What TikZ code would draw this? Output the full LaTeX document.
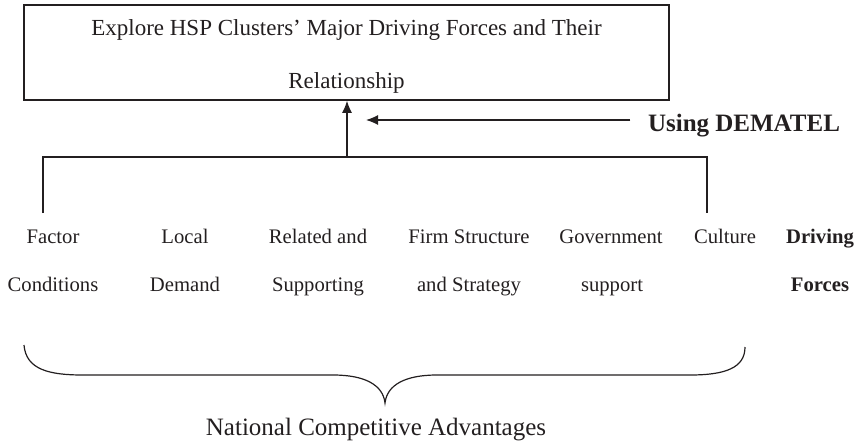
\documentclass[tikz,border=0pt]{standalone}
\usepackage{fontspec}
\setmainfont{Liberation Serif}
\usetikzlibrary{arrows.meta}

\definecolor{ink}{HTML}{231F20}

\tikzset{
  lbl/.style={anchor=base, inner sep=0.75pt, font=\fontsize{15.5}{18}\selectfont},
  boldlbl/.style={lbl, font=\fontsize{15.5}{18}\selectfont\bfseries},
  tip/.style={-{Latex[length=9pt,width=7.5pt]}},
}

\begin{document}
\begin{tikzpicture}[x=0.75pt,y=0.75pt,yscale=-1,xscale=1, line width=0.9pt, color=ink]
\useasboundingbox (0,0) rectangle (855,442);

%Box [id:goal]
\node (goal) at (346.5,52.5) [draw, line width=1.2pt, minimum width=483.75pt, minimum height=71.25pt] {};
% Text Node
\node (goalA) at (346.5,36) [lbl, font=\fontsize{17.25}{20}\selectfont] {Explore HSP Clusters’ Major Driving Forces and Their};
% Text Node
\node (goalB) at (346.5,89) [lbl, font=\fontsize{17.25}{20}\selectfont] {Relationship};

% Text Node
\node (dematel) at (744,132) [lbl, font=\fontsize{18.75}{22}\selectfont\bfseries] {Using DEMATEL};

\coordinate (join) at (347,157);
\coordinate (lfoot) at (43,213);
\coordinate (rfoot) at (707,213);
\coordinate (dtip) at (366,120);

%Straight Lines
\draw (lfoot) |- (join) -| (rfoot);
%Straight Lines
\draw [tip] (join) -- (join |- goal.south);
%Straight Lines
\draw [tip, shorten <=12pt] (dematel.west |- dtip) -- (dtip);

% Text Node
\node (factorA) at (53,243) [lbl] {Factor};
\node (factorB) at (53,291) [lbl] {Conditions};
% Text Node
\node (localA) at (185,243) [lbl] {Local};
\node (localB) at (185,291) [lbl] {Demand};
% Text Node
\node (relatedA) at (318,243) [lbl] {Related and};
\node (relatedB) at (318,291) [lbl] {Supporting};
% Text Node
\node (firmA) at (469,243) [lbl] {Firm Structure};
\node (firmB) at (469,291) [lbl] {and Strategy};
% Text Node
\node (govA) at (611,243) [lbl] {Government};
\node (govB) at (612,291) [lbl] {support};
% Text Node
\node (culture) at (725,243) [lbl] {Culture};
% Text Node
\node (drivingA) at (820,243) [boldlbl] {Driving};
\node (drivingB) at (820,291) [boldlbl] {Forces};

%Curve Lines (brace)
\draw (24,345) .. controls (26,370) and (50,375) .. (83,375) -- (333,375)
  .. controls (365,375) and (383,385) .. (385,403)
  .. controls (387,385) and (405,375) .. (437,375) -- (690,375)
  .. controls (725,375) and (745,368) .. (745,347);

% Text Node
\node (nca) at (376,435) [lbl, font=\fontsize{18.75}{22}\selectfont] {National Competitive Advantages};

\end{tikzpicture}
\end{document}
